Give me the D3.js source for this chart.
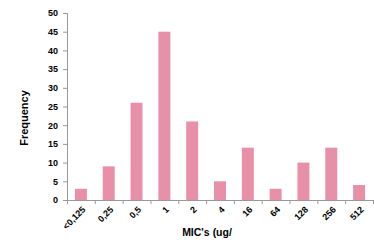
<!DOCTYPE html>
<html>
<head>
<meta charset="utf-8">
<script src="https://cdn.jsdelivr.net/npm/d3@7"></script>
<style>
  body { margin: 0; background: #fff; }
  text { font-family: Arial, "Liberation Sans", sans-serif; font-weight: bold; fill: #000; }
</style>
</head>
<body>
<svg id="chart" width="374" height="244"></svg>
<script>
// MIC categories and frequencies
var categories = ["<0,125", "0,25", "0,5", "1", "2", "4", "16", "64", "128", "256", "512"];
var frequency = [3, 9, 26, 45, 21, 5, 14, 3, 10, 14, 4];
var yTicks = [0, 5, 10, 15, 20, 25, 30, 35, 40, 45, 50];

var margin = {top: 13, right: 1, bottom: 44, left: 67},
    width = 374 - margin.left - margin.right,
    height = 244 - margin.top - margin.bottom;

var svg = d3.select("#chart")
  .append("g")
    .attr("transform", "translate(" + margin.left + "," + margin.top + ")");

var x = d3.scaleBand()
  .domain(categories)
  .range([0, width])
  .paddingInner(0.57)
  .paddingOuter(0.285);

var xTickScale = d3.scaleLinear()
  .domain([0, categories.length])
  .range([0, width]);

var y = d3.scaleLinear()
  .domain([0, 50])
  .range([height, 0]);

// bars
svg.append("g")
  .selectAll("rect")
  .data(frequency)
  .enter()
  .append("rect")
    .attr("x", function(d, i) { return x(categories[i]); })
    .attr("y", function(d) { return y(d); })
    .attr("width", x.bandwidth())
    .attr("height", function(d) { return height - y(d); })
    .style("fill", "#e890a8");

// y axis
var yAxis = svg.append("g")
  .call(d3.axisLeft(y).tickValues(yTicks).tickSize(4).tickPadding(5));
yAxis.selectAll("line, path").style("stroke", "#999");
yAxis.selectAll("text").style("font-size", "9px");

// x axis: line with ticks at category boundaries
var xAxis = svg.append("g")
  .attr("transform", "translate(0," + height + ")")
  .call(d3.axisBottom(xTickScale).ticks(categories.length).tickSize(4).tickSizeOuter(0).tickFormat(""));
xAxis.selectAll("line, path").style("stroke", "#999");

// rotated category labels
svg.append("g")
  .selectAll("text")
  .data(categories)
  .enter()
  .append("text")
    .attr("transform", function(d) {
      return "translate(" + (x(d) + x.bandwidth() / 2 + 3) + "," + (height + 8) + ") rotate(-45)";
    })
    .attr("text-anchor", "end")
    .attr("dy", "0.35em")
    .style("font-size", "9px")
    .text(function(d) { return d; });

// axis titles
svg.append("text")
  .attr("x", 140)
  .attr("y", height + 36)
  .attr("text-anchor", "middle")
  .style("font-size", "10.5px")
  .text("MIC's (ug/");

svg.append("text")
  .attr("transform", "translate(" + (-39) + "," + 105 + ") rotate(-90)")
  .attr("text-anchor", "middle")
  .style("font-size", "11px")
  .text("Frequency");
</script>
</body>
</html>
